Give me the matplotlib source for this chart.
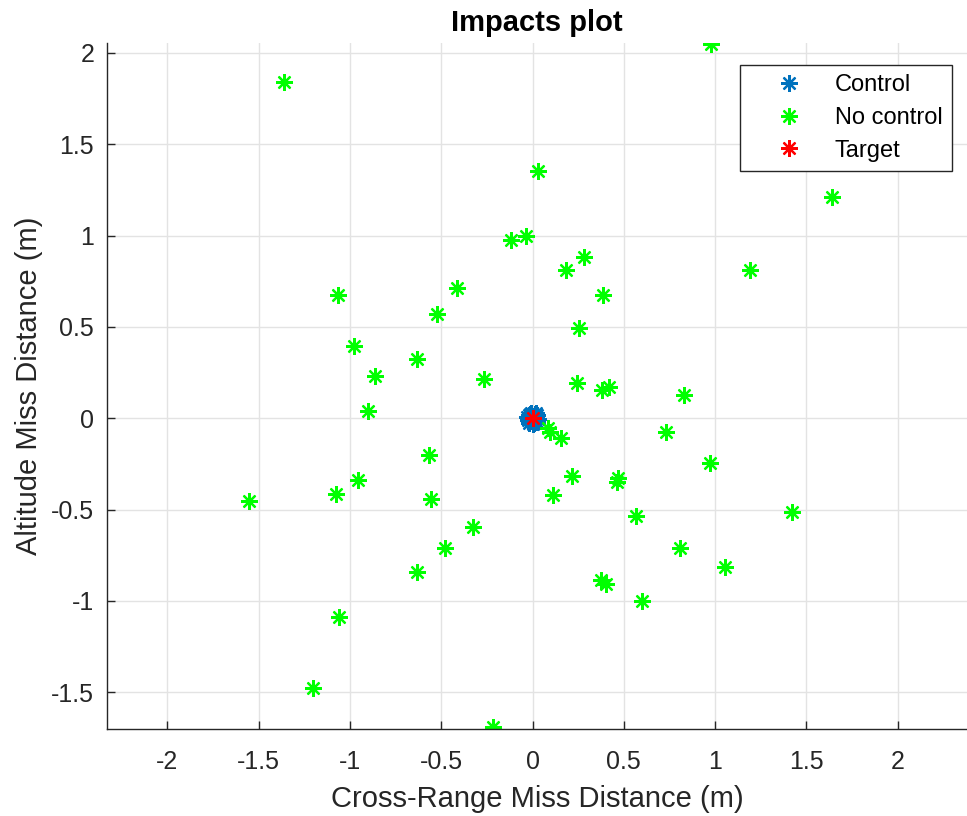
import numpy as np
import matplotlib
matplotlib.use("Agg")
import matplotlib.pyplot as plt

plt.rcParams['font.family'] = ['Liberation Sans', 'DejaVu Sans']
plt.rcParams['axes.unicode_minus'] = False

# impacts without control (cross-range, altitude) in m
nocontrol_x = [-1.363, 0.978, 0.029, 1.640, -0.120, -0.035, 0.284, 0.181, 1.192, -1.063,
               -0.416, 0.387, -0.524, 0.256, -0.976, -0.631, -0.865, -0.266, 0.245, 0.379,
               0.417, 0.832, -0.901, 0.083, 0.093, 0.157, 0.732, -0.568, 0.971, 0.217,
               0.467, 0.461, -0.954, -1.078, 0.111, -1.553, -0.554, 1.421, 0.568, -0.328,
               -0.480, 0.805, 1.056, -0.633, 0.376, 0.403, 0.602, -1.058, -1.204, -0.219]
nocontrol_y = [1.838, 2.048, 1.354, 1.212, 0.973, 0.995, 0.883, 0.809, 0.811, 0.677,
               0.713, 0.675, 0.570, 0.491, 0.394, 0.325, 0.230, 0.215, 0.195, 0.155,
               0.172, 0.126, 0.038, -0.055, -0.075, -0.111, -0.075, -0.203, -0.246, -0.319,
               -0.330, -0.352, -0.340, -0.416, -0.418, -0.451, -0.445, -0.515, -0.537, -0.595,
               -0.710, -0.710, -0.814, -0.843, -0.887, -0.909, -1.000, -1.088, -1.479, -1.690]

# impacts with control, all bunched at the target
control_x = [0.020, -0.016, 0.008, -0.024, 0.028, -0.006, 0.014, -0.021,
             0.024, -0.029, 0.003, -0.011, 0.018, 0.000, -0.019, 0.026]
control_y = [0.013, 0.023, -0.027, -0.010, -0.003, 0.031, 0.021, -0.024,
             -0.020, 0.006, 0.010, -0.015, 0.028, -0.032, 0.016, 0.018]

target_x = [0.0]
target_y = [0.0]

star = (8, 2, 0)

fig = plt.figure(figsize=(9.67, 8.16), dpi=100)
ax = fig.add_axes([0.1103, 0.1070, 0.8897, 0.8403])

ax.plot(control_x, control_y, linestyle='none', marker=star, color='#0072BD',
        markersize=12, markeredgewidth=1.6, label='Control')
ax.plot(nocontrol_x, nocontrol_y, linestyle='none', marker=star, color='#00FF00',
        markersize=12, markeredgewidth=1.6, label='No control')
ax.plot(target_x, target_y, linestyle='none', marker=star, color='#FF0000',
        markersize=12, markeredgewidth=1.6, label='Target')

ax.set_xlim(-2.332, 2.379)
ax.set_ylim(-1.70, 2.054)
ax.set_xticks(np.arange(-2, 2.01, 0.5))
ax.set_yticks(np.arange(-1.5, 2.01, 0.5))
ax.set_xticklabels(['-2', '-1.5', '-1', '-0.5', '0', '0.5', '1', '1.5', '2'])
ax.set_yticklabels(['-1.5', '-1', '-0.5', '0', '0.5', '1', '1.5', '2'])

ax.grid(True, color='#e3e3e3', linewidth=1.0)
ax.set_axisbelow(True)
for s in ['top', 'right']:
    ax.spines[s].set_visible(False)
for s in ['left', 'bottom']:
    ax.spines[s].set_color('#262626')
    ax.spines[s].set_linewidth(1.0)
ax.tick_params(direction='in', length=6, width=1.0, color='#262626',
               labelsize=18, labelcolor='#262626')
ax.tick_params(axis='x', pad=15)
ax.tick_params(axis='y', pad=9)

ax.set_xlabel('Cross-Range Miss Distance (m)', fontsize=21, color='#262626', labelpad=8)
ax.set_ylabel('Altitude Miss Distance (m)', fontsize=21, color='#262626', labelpad=6)
ax.set_title('Impacts plot', fontsize=21, fontweight='bold', pad=9)

leg = ax.legend(loc='upper right', bbox_to_anchor=(0.9845, 0.9203),
                bbox_transform=fig.transFigure, fontsize=17, fancybox=False,
                framealpha=1, edgecolor='#262626', borderpad=0.4,
                handlelength=3.36, handletextpad=0.27, labelspacing=0.45,
                borderaxespad=0)
leg.get_frame().set_linewidth(1.0)

fig.savefig('out.png', dpi=100)
